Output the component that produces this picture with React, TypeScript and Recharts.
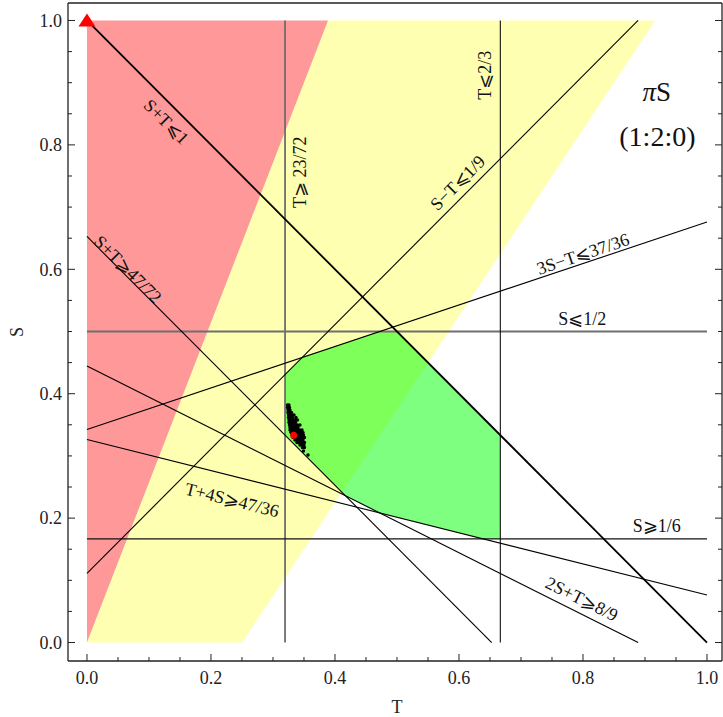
import React from "react";
import {
  Area,
  ComposedChart,
  ReferenceDot,
  ReferenceLine,
  Scatter,
  XAxis,
  YAxis,
} from "recharts";

const SERIF = '"Liberation Serif", "DejaVu Serif", serif';
const INK = "#222";

// frame ticks, minor every 0.05
const ticks = [
  0, 0.05, 0.1, 0.15, 0.2, 0.25, 0.3, 0.35, 0.4, 0.45, 0.5, 0.55, 0.6, 0.65,
  0.7, 0.75, 0.8, 0.85, 0.9, 0.95, 1,
];

// shaded regions: [lower S, upper S] at each T breakpoint
const redBand = [
  { t: 0, band: [0, 1] },
  { t: 7 / 18, band: [1, 1] },
];
const yellowBand = [
  { t: 0, band: [0, 0] },
  { t: 0.25, band: [0, 0.6429] },
  { t: 7 / 18, band: [0.2083, 1] },
  { t: 11 / 12, band: [1, 1] },
];
const feasibleBand = [
  { t: 23 / 72, band: [0.3333, 0.4306] },
  { t: 0.3472, band: [0.3056, 0.4583] },
  { t: 0.4167, band: [0.2361, 0.4815] },
  { t: 0.4722, band: [0.2083, 0.5] },
  { t: 0.5, band: [0.2014, 0.5] },
  { t: 0.6389, band: [0.1667, 0.3611] },
  { t: 0.6667, band: [0.1667, 0.3333] },
];

// constraint lines as [T, S] endpoints
const sumUpper = [[0, 1], [1, 0]];
const diffUpper = [[0, 1 / 9], [8 / 9, 1]];
const threeSUpper = [[0, 37 / 108], [1, 73 / 108]];
const sumLower = [[0, 47 / 72], [47 / 72, 0]];
const fourSLower = [[0, 47 / 144], [1, 11 / 144]];
const twoSLower = [[0, 4 / 9], [8 / 9, 0]];
const tLower = [[23 / 72, 0], [23 / 72, 1]];
const tUpper = [[2 / 3, 0], [2 / 3, 1]];
const sUpper = [[0, 1 / 2], [1, 1 / 2]];
const sLower = [[0, 1 / 6], [1, 1 / 6]];

// simulated (T, S) outcomes
const cloud = [
  [0.3234, 0.3818], [0.3258, 0.3818],
  [0.3234, 0.3778], [0.3266, 0.3778],
  [0.3242, 0.3738], [0.3274, 0.3738],
  [0.3242, 0.3698], [0.3274, 0.3698], [0.3298, 0.3698],
  [0.325, 0.3658], [0.3282, 0.3658], [0.3306, 0.3658], [0.3339, 0.3658],
  [0.325, 0.3617], [0.3282, 0.3617], [0.3315, 0.3617], [0.3371, 0.3617],
  [0.3258, 0.3577], [0.329, 0.3577], [0.3323, 0.3577], [0.3355, 0.3577], [0.3395, 0.3577],
  [0.3258, 0.3537], [0.329, 0.3537], [0.3323, 0.3537], [0.3363, 0.3537],
  [0.3266, 0.3497], [0.3298, 0.3497], [0.3331, 0.3497], [0.3363, 0.3497], [0.3395, 0.3497], [0.3435, 0.3497],
  [0.3274, 0.3457], [0.3306, 0.3457], [0.3339, 0.3457], [0.3371, 0.3457], [0.3403, 0.3457],
  [0.3274, 0.3416], [0.3306, 0.3416], [0.3339, 0.3416], [0.3371, 0.3416], [0.3403, 0.3416], [0.3435, 0.3416], [0.3468, 0.3416],
  [0.329, 0.3376], [0.3323, 0.3376], [0.3355, 0.3376], [0.3387, 0.3376], [0.3419, 0.3376], [0.3452, 0.3376], [0.3484, 0.3376],
  [0.3306, 0.3336], [0.3339, 0.3336], [0.3371, 0.3336], [0.3403, 0.3336], [0.3435, 0.3336], [0.3468, 0.3336], [0.3492, 0.3336],
  [0.3323, 0.3296], [0.3355, 0.3296], [0.3387, 0.3296], [0.3419, 0.3296], [0.3452, 0.3296], [0.3484, 0.3296], [0.3508, 0.3296],
  [0.3355, 0.3256], [0.3387, 0.3256], [0.3419, 0.3256], [0.3452, 0.3256], [0.3484, 0.3256],
  [0.3387, 0.3215], [0.3419, 0.3215], [0.3452, 0.3215], [0.3484, 0.3215], [0.3508, 0.3215],
  [0.3435, 0.3175], [0.3468, 0.3175], [0.35, 0.3175],
  [0.3476, 0.3135], [0.3508, 0.3135],
  [0.3492, 0.3079],
  [0.3565, 0.3014],
];
const symmetric = [[1 / 3, 1 / 3]];
const corner = [[0, 1]];

const toPoints = (pairs: number[][]) => pairs.map(([t, s]) => ({ t, s }));
const seg = (pair: number[][]) => pair.map(([x, y]) => ({ x, y }));

const isMajor = (v: number) => Math.abs(v * 5 - Math.round(v * 5)) < 1e-6;

const BottomTick = ({ x, y, payload }: any) => (
  <g>
    <line x1={x} x2={x} y1={y} y2={y - (isMajor(payload.value) ? 7 : 4)} stroke={INK} />
    {isMajor(payload.value) && (
      <text x={x} y={y + 23} textAnchor="middle" fontSize={18} fontFamily={SERIF} fill={INK}>
        {payload.value.toFixed(1)}
      </text>
    )}
  </g>
);

const TopTick = ({ x, y, payload }: any) => (
  <line x1={x} x2={x} y1={y} y2={y + (isMajor(payload.value) ? 7 : 4)} stroke={INK} />
);

const LeftTick = ({ x, y, payload }: any) => (
  <g>
    <line x1={x} x2={x + (isMajor(payload.value) ? 7 : 4)} y1={y} y2={y} stroke={INK} />
    {isMajor(payload.value) && (
      <text x={x - 6} y={y} dy="0.35em" textAnchor="end" fontSize={18} fontFamily={SERIF} fill={INK}>
        {payload.value.toFixed(1)}
      </text>
    )}
  </g>
);

const RightTick = ({ x, y, payload }: any) => (
  <line x1={x} x2={x - (isMajor(payload.value) ? 7 : 4)} y1={y} y2={y} stroke={INK} />
);

const tag =
  (text: React.ReactNode, angle = 0, size = 18) =>
  (p: any) => (
    <text
      x={p.cx}
      y={p.cy}
      transform={angle ? `rotate(${angle} ${p.cx} ${p.cy})` : undefined}
      textAnchor="middle"
      dominantBaseline="central"
      fontSize={size}
      fontFamily={SERIF}
      fill="#111"
    >
      {text}
    </text>
  );

const dot = (r: number, fill: string) => (p: any) => <circle cx={p.cx} cy={p.cy} r={r} fill={fill} />;

const triangle = (p: any) => (
  <polygon
    points={`${p.cx},${p.cy - 7} ${p.cx - 8.5},${p.cy + 6} ${p.cx + 8.5},${p.cy + 6}`}
    fill="#ff0000"
  />
);

export default function App() {
  return (
    <div>
      <style>{"body{margin:0}"}</style>
      <ComposedChart width={723} height={717} margin={{ top: 0, right: 0, bottom: 0, left: 0 }}>
        <XAxis
          dataKey="t"
          type="number"
          domain={[-0.0306, 1.0242]}
          allowDataOverflow
          ticks={ticks}
          interval={0}
          height={56}
          tickSize={0}
          tickMargin={0}
          tickLine={false}
          tick={BottomTick}
          axisLine={{ stroke: INK, strokeWidth: 1.3 }}
          label={(p: any) => (
            <text
              x={p.viewBox.x + p.viewBox.width / 2 + 2}
              y={p.viewBox.y + 52}
              textAnchor="middle"
              fontSize={18}
              fontFamily={SERIF}
              fill={INK}
            >
              T
            </text>
          )}
        />
        <XAxis
          xAxisId="top"
          orientation="top"
          type="number"
          domain={[-0.0306, 1.0242]}
          allowDataOverflow
          ticks={ticks}
          interval={0}
          height={3}
          tickSize={0}
          tickMargin={0}
          tickLine={false}
          tick={TopTick}
          axisLine={{ stroke: INK, strokeWidth: 1.3 }}
        />
        <YAxis
          dataKey="s"
          type="number"
          domain={[-0.0297, 1.0281]}
          allowDataOverflow
          ticks={ticks}
          interval={0}
          width={68}
          tickSize={0}
          tickMargin={0}
          tickLine={false}
          tick={LeftTick}
          axisLine={{ stroke: INK, strokeWidth: 1.3 }}
          label={(p: any) => (
            <text
              x={23}
              y={p.viewBox.y + p.viewBox.height / 2}
              transform={`rotate(-90 23 ${p.viewBox.y + p.viewBox.height / 2})`}
              textAnchor="middle"
              fontSize={18}
              fontFamily={SERIF}
              fill={INK}
            >
              S
            </text>
          )}
        />
        <YAxis
          yAxisId="right"
          orientation="right"
          type="number"
          domain={[-0.0297, 1.0281]}
          allowDataOverflow
          ticks={ticks}
          interval={0}
          width={1}
          tickSize={0}
          tickMargin={0}
          tickLine={false}
          tick={RightTick}
          axisLine={{ stroke: INK, strokeWidth: 1.3 }}
        />

        <Area data={redBand} dataKey="band" type="linear" stroke="none" fill="#ff0000" fillOpacity={0.4} isAnimationActive={false} dot={false} activeDot={false} />
        <Area data={yellowBand} dataKey="band" type="linear" stroke="none" fill="#ffff00" fillOpacity={0.3} isAnimationActive={false} dot={false} activeDot={false} />
        <Area data={feasibleBand} dataKey="band" type="linear" stroke="none" fill="#00ff00" fillOpacity={0.5} isAnimationActive={false} dot={false} activeDot={false} />

        <ReferenceLine segment={seg(tLower)} stroke="#6e6e6e" strokeWidth={1.8} />
        <ReferenceLine segment={seg(sUpper)} stroke="#6e6e6e" strokeWidth={1.8} />
        <ReferenceLine segment={seg(tUpper)} stroke="#111" strokeWidth={1.1} />
        <ReferenceLine segment={seg(sLower)} stroke="#111" strokeWidth={1.1} />
        <ReferenceLine segment={seg(diffUpper)} stroke="#000" strokeWidth={1.1} />
        <ReferenceLine segment={seg(threeSUpper)} stroke="#000" strokeWidth={1.1} />
        <ReferenceLine segment={seg(sumLower)} stroke="#000" strokeWidth={1.1} />
        <ReferenceLine segment={seg(fourSLower)} stroke="#000" strokeWidth={1.1} />
        <ReferenceLine segment={seg(twoSLower)} stroke="#000" strokeWidth={1.1} />
        <ReferenceLine segment={seg(sumUpper)} stroke="#000" strokeWidth={1.8} />

        <Scatter data={toPoints(cloud)} shape={dot(1.7, "#000")} isAnimationActive={false} />
        <Scatter data={toPoints(symmetric)} shape={dot(3.5, "#ff0000")} isAnimationActive={false} />
        <Scatter data={toPoints(corner)} shape={triangle} isAnimationActive={false} />

        <ReferenceDot x={0.128} y={0.837} shape={tag("S+T⩽1", 45)} />
        <ReferenceDot x={0.066} y={0.6} shape={tag("S+T⩾47/72", 45)} />
        <ReferenceDot x={0.3435} y={0.756} shape={tag("T⩾ 23/72", -90)} />
        <ReferenceDot x={0.642} y={0.912} shape={tag("T⩽2/3", -90)} />
        <ReferenceDot x={0.598} y={0.739} shape={tag("S−T⩽1/9", -45)} />
        <ReferenceDot x={0.8} y={0.6246} shape={tag("3S−T⩽37/36", -18.5)} />
        <ReferenceDot x={0.799} y={0.52} shape={tag("S⩽1/2")} />
        <ReferenceDot x={0.919} y={0.187} shape={tag("S⩾1/6")} />
        <ReferenceDot x={0.234} y={0.2291} shape={tag("T+4S⩾47/36", 14)} />
        <ReferenceDot x={0.798} y={0.0699} shape={tag("2S+T⩾8/9", 26.6)} />
        <ReferenceDot
          x={0.919}
          y={0.885}
          shape={tag(
            <>
              <tspan fontStyle="italic">π</tspan>S
            </>,
            0,
            27
          )}
        />
        <ReferenceDot x={0.92} y={0.8127} shape={tag("(1:2:0)", 0, 28)} />
      </ComposedChart>
    </div>
  );
}
